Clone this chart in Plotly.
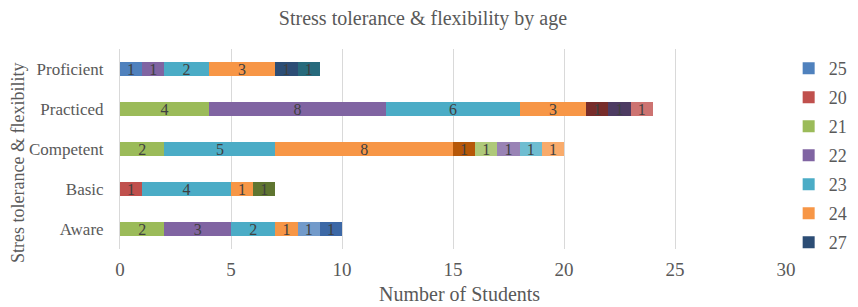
import plotly.graph_objects as go

categories = ["Aware", "Basic", "Competent", "Practiced", "Proficient"]

series_names = ["25", "20", "21", "22", "23", "24", "27", "28",
                "29", "30", "31", "32", "33", "34", "35", "36", "37", "38", "39"]

series_values = [
    [None, None, None, None, 1],      # 25
    [None, 1, None, None, None],      # 20
    [2, None, 2, 4, None],            # 21
    [3, None, None, 8, 1],            # 22
    [2, 4, 5, 6, 2],                  # 23
    [1, 1, 8, 3, 3],                  # 24
    [None, None, None, None, 1],      # 27
    [None, None, None, 1, None],      # 28
    [None, 1, None, None, None],      # 29
    [None, None, None, 1, None],      # 30
    [None, None, None, None, 1],      # 31
    [None, None, 1, None, None],      # 32
    [1, None, None, None, None],      # 33
    [None, None, None, 1, None],      # 34
    [None, None, 1, None, None],      # 35
    [None, None, 1, None, None],      # 36
    [None, None, 1, None, None],      # 37
    [None, None, 1, None, None],      # 38
    [1, None, None, None, None],      # 39
]

colors = ["#4F81BD", "#C0504D", "#9BBB59", "#8064A2", "#4BACC6", "#F79646",
          "#2C4D75", "#772C2A", "#5F7530", "#4D3B62", "#276A7C", "#B65708",
          "#729ACA", "#CD7371", "#AFC97A", "#9983B5", "#6FBDD1", "#F9AB6B",
          "#3C68A6"]

x_ticks = [0, 5, 10, 15, 20, 25, 30]

title_text = "Stress tolerance & flexibility by age"
x_title = "Number of Students"
y_title = "Stres tolerance & flexibility"

FONT = "Liberation Serif"
GREY = "#595959"

W, H = 858, 307
L, T, PW, PH = 112, 41, 666, 200

fig = go.Figure()
for i, (name, vals) in enumerate(zip(series_names, series_values)):
    fig.add_trace(go.Bar(
        name=name,
        y=categories,
        x=vals,
        orientation="h",
        marker=dict(color=colors[i], line=dict(width=0)),
        texttemplate="%{x}",
        textposition="inside",
        insidetextanchor="middle",
        textangle=0,
        textfont=dict(family=FONT, size=16, color="#404040"),
        showlegend=(i < 8),
        legendgroup=name,
        hoverinfo="x+name",
    ))

fig.update_layout(
    barmode="stack",
    bargap=0.67,
    width=W,
    height=H,
    margin=dict(l=L, r=W - L - PW, t=T, b=H - T - PH, autoexpand=False),
    paper_bgcolor="white",
    plot_bgcolor="white",
    font=dict(family=FONT, color=GREY, size=16),
    uniformtext=dict(minsize=15, mode="show"),
    title=dict(text=title_text, x=415 / W, xref="container", xanchor="center",
               y=1 - 10 / H, yref="container", yanchor="middle",
               font=dict(family=FONT, size=20, color=GREY)),
    legend=dict(x=1.004, xanchor="left", y=0.995, yanchor="top",
                font=dict(family=FONT, size=18, color=GREY),
                tracegroupgap=2.6, itemwidth=30, traceorder="grouped",
                bgcolor="rgba(0,0,0,0)"),
    xaxis=dict(range=[0, 30], tickvals=x_ticks, showgrid=True,
               gridcolor="#D9D9D9", gridwidth=1, zeroline=False,
               showline=False, ticks="", ticklabelstandoff=7,
               tickfont=dict(family=FONT, size=19, color=GREY)),
    yaxis=dict(categoryorder="array", categoryarray=categories,
               showline=True, linecolor="#D9D9D9", linewidth=1,
               ticks="", ticklabelstandoff=12,
               tickfont=dict(family=FONT, size=17, color=GREY)),
    annotations=[
        dict(text=x_title, xref="paper", yref="paper",
             x=(451 - L) / PW, y=-(286 - T - PH) / PH,
             xanchor="center", yanchor="middle", showarrow=False,
             font=dict(family=FONT, size=20, color=GREY)),
        dict(text=y_title, xref="paper", yref="paper", textangle=-90,
             x=-(L - 10) / PW, y=1 - (155 - T) / PH,
             xanchor="center", yanchor="middle", showarrow=False,
             font=dict(family=FONT, size=18, color=GREY)),
    ],
)

fig.write_html("out.html")
